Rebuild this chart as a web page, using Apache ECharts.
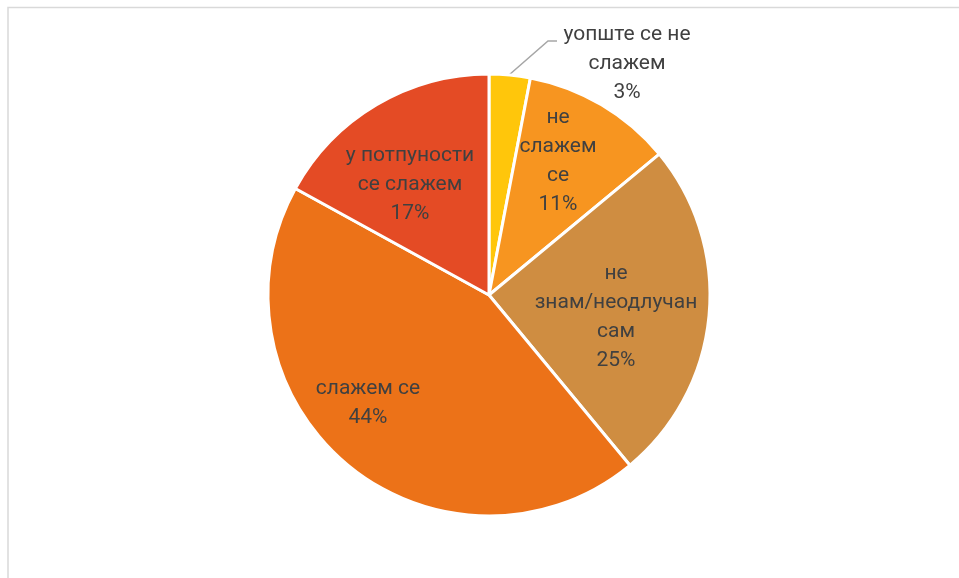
<!DOCTYPE html>
<html>
<head>
<meta charset="utf-8">
<script src="https://cdn.jsdelivr.net/npm/echarts@6/dist/echarts.min.js"></script>
<style>
  html, body { margin: 0; padding: 0; background: #fff; }
  #chart { width: 959px; height: 578px; }
</style>
</head>
<body>
<div id="chart"></div>
<script>
const categories = [
  'уопште се не\nслажем',
  'не\nслажем\nсе',
  'не\nзнам/неодлучан\nсам',
  'слажем се',
  'у потпуности\nсе слажем'
]
const percentages = [3, 11, 25, 44, 17]
const sliceColors = ['#ffc60b', '#f79520', '#cf8d41', '#ec7218', '#e44b25']

// label placement (Excel best-fit style)
const labelSpots = [
  { x: 627, y: 64 },
  { x: 558, y: 161 },
  { x: 616, y: 317 },
  { x: 368, y: 403 },
  { x: 410, y: 185 }
]

const chart = echarts.init(document.getElementById('chart'))

chart.setOption({
  animation: false,
  backgroundColor: '#fff',
  graphic: [
    {
      type: 'polyline',
      shape: { points: [[8, 600], [8, 7.5], [959, 7.5]] },
      style: { stroke: '#d9d9d9', lineWidth: 1.5, fill: null }
    },
    {
      // leader line for the small slice
      type: 'polyline',
      shape: { points: [[509, 75], [548, 41], [557, 41]] },
      style: { stroke: '#a6a6a6', lineWidth: 1.5, fill: null }
    }
  ],
  series: [
    {
      type: 'pie',
      center: [489, 295],
      radius: 221,
      startAngle: 90,
      clockwise: true,
      avoidLabelOverlap: false,
      itemStyle: { borderColor: '#fff', borderWidth: 3 },
      label: {
        show: true,
        position: 'inside',
        color: '#404040',
        fontFamily: 'Roboto, "Noto Sans", sans-serif',
        fontSize: 21,
        lineHeight: 29,
        align: 'center',
        formatter(p) {
          return p.name + '\n' + p.value + '%'
        }
      },
      labelLine: { show: false },
      labelLayout(params) {
        const spot = labelSpots[params.dataIndex]
        return { x: spot.x, y: spot.y, align: 'center', verticalAlign: 'middle' }
      },
      data: percentages.map((v, i) => ({
        name: categories[i],
        value: v,
        itemStyle: { color: sliceColors[i] }
      }))
    }
  ]
})
</script>
</body>
</html>
